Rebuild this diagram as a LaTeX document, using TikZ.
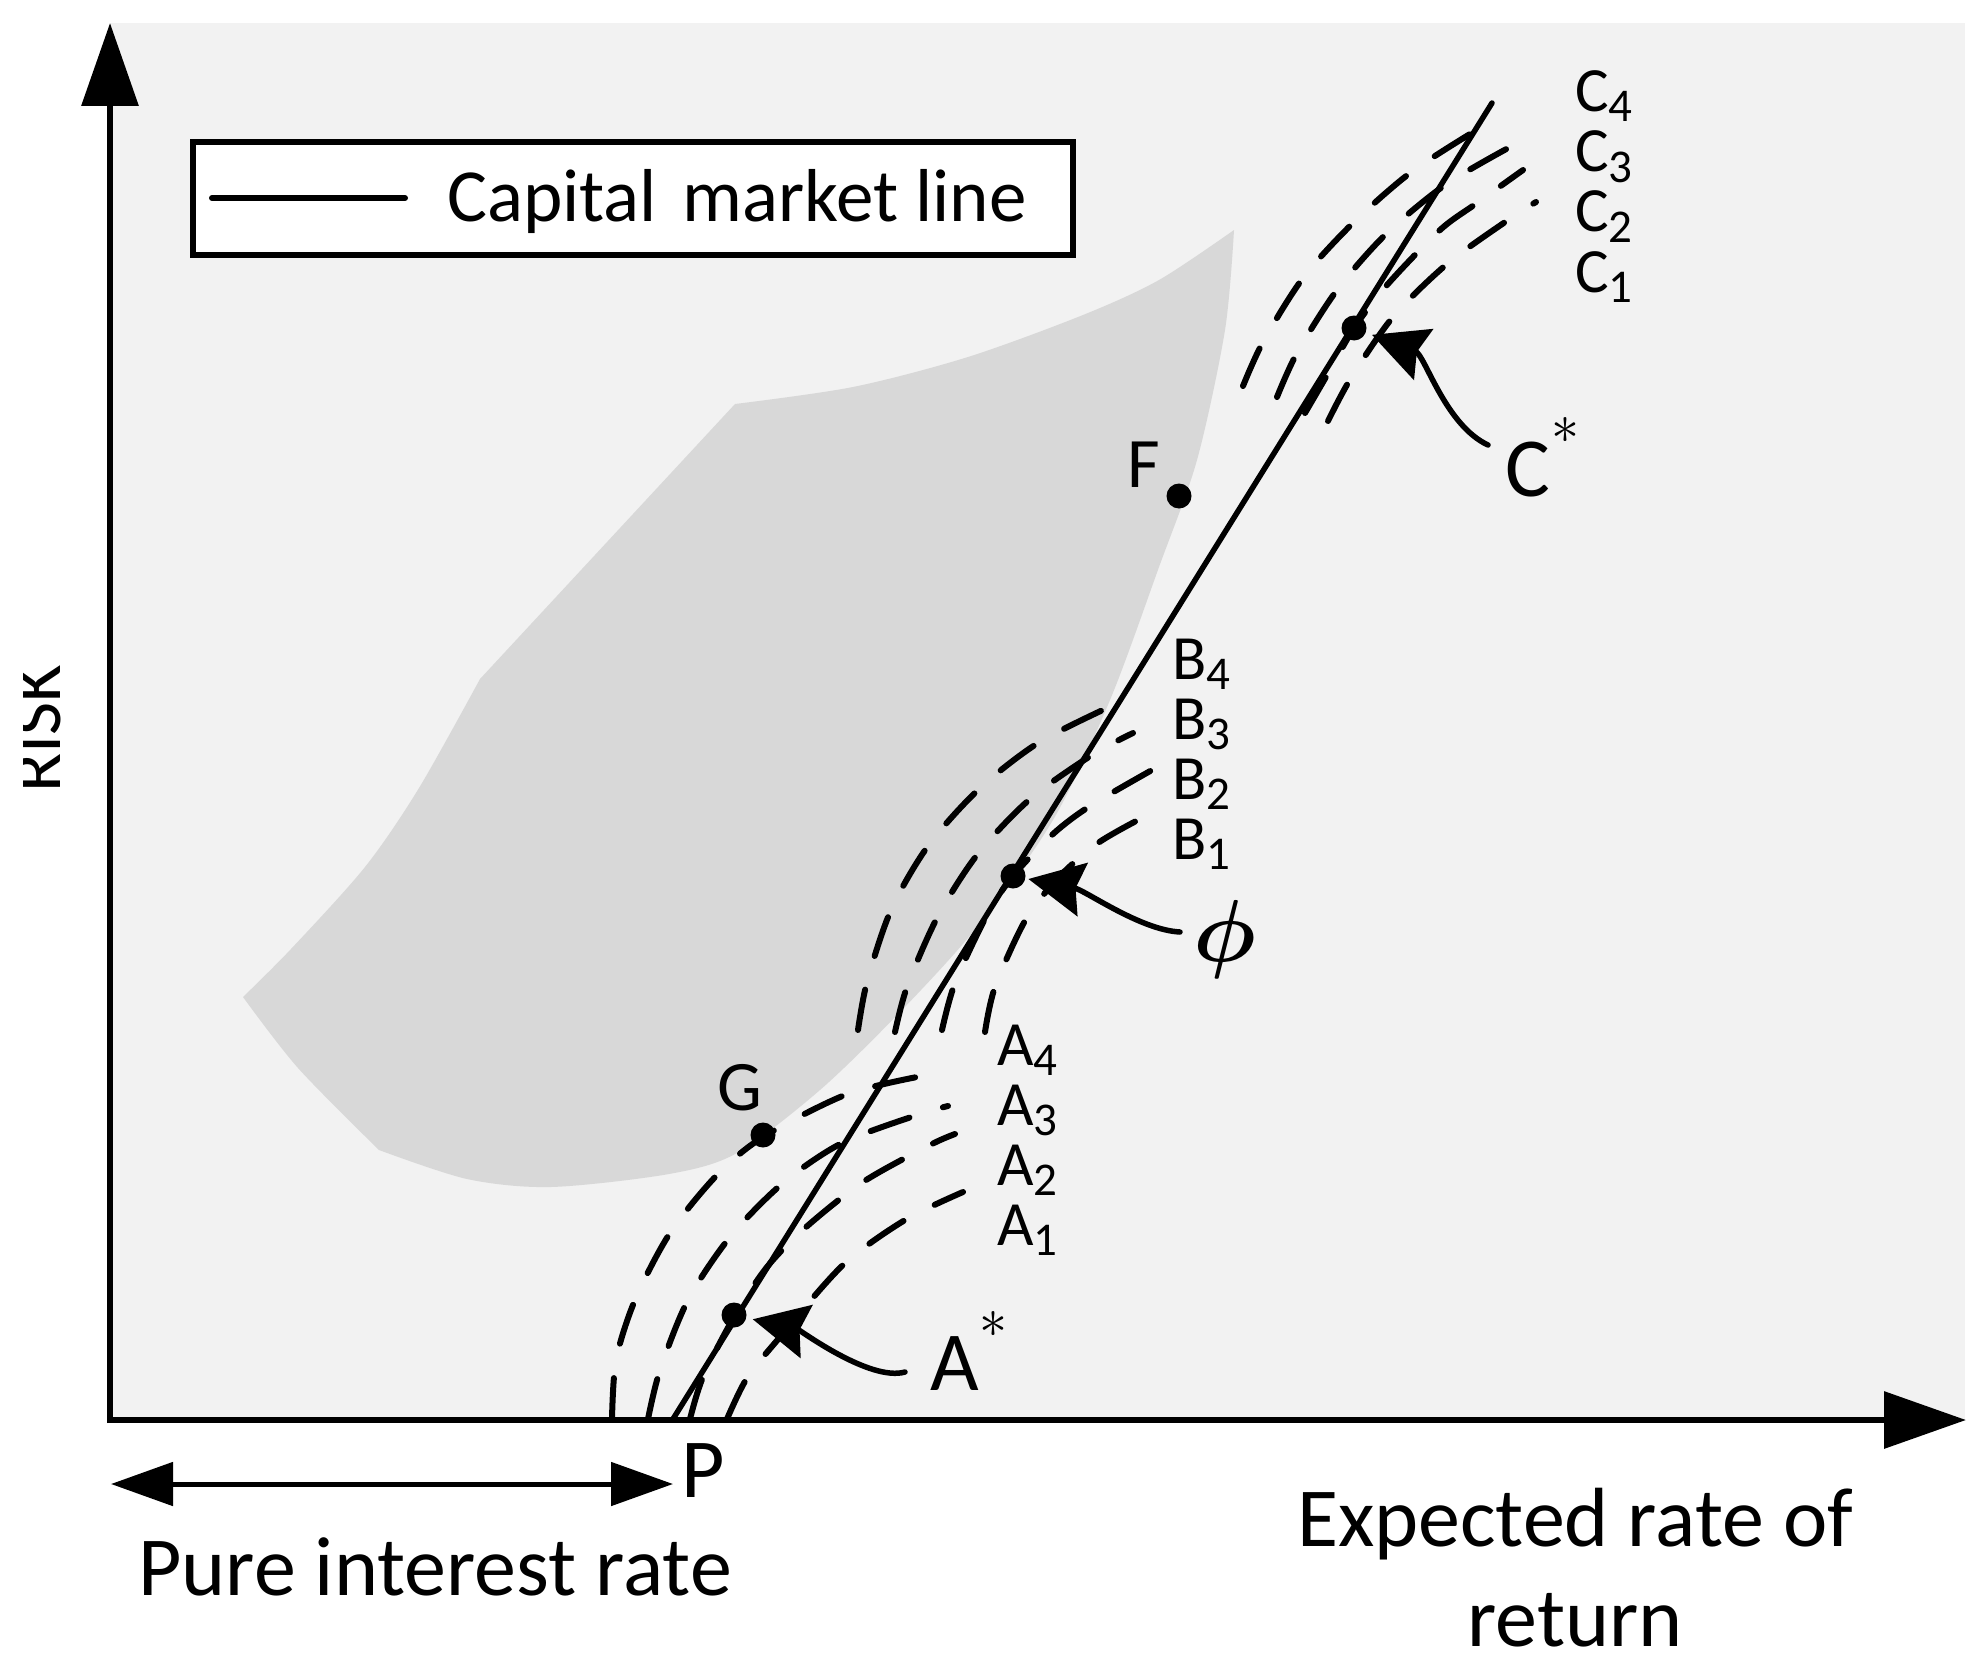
\RequirePackage{fix-cm}
\documentclass[tikz,border=0pt]{standalone}
\usepackage{fontspec}
\setmainfont{Carlito}
\usetikzlibrary{arrows.meta}
\definecolor{bglight}{HTML}{F2F2F2}
\definecolor{regiongray}{HTML}{D8D8D8}
\newcommand{\sublab}[2]{#1\raisebox{-10pt}{\fontsize{47}{47}\selectfont #2}}
\begin{document}
\begin{tikzpicture}[x=1pt,y=-1pt,
  axisline/.style={line width=6.5pt},
  cmlline/.style={line width=5.5pt, line cap=round},
  indiff/.style={line width=6pt, line cap=round, dash pattern=on 41pt off 35pt},
  dotnode/.style={circle, fill=black, minimum size=25pt, inner sep=0pt},
  ptr/.style={line width=5.5pt, line cap=round, -{Stealth[length=55pt,width=54pt,inset=7pt]}},
  lbl/.style={inner sep=0pt, font=\fontsize{63}{63}\selectfont, anchor=base west},
  bigtext/.style={inner sep=0pt, font=\fontsize{84}{100}\selectfont},
  midtext/.style={inner sep=0pt, font=\fontsize{71}{71}\selectfont, anchor=base},
  startext/.style={inner sep=0pt, font=\fontsize{56}{56}\selectfont, anchor=center},
]
\useasboundingbox (0,0) rectangle (1983,1672);
\fill[white] (0,0) rectangle (1983,1672);
\fill[bglight] (110,23) rectangle (1965,1420);

% feasible region
\fill[regiongray] plot[smooth] coordinates {(243,997) (291,949) (365,867) (419,788) (480,679)}
  -- (735,404)
  -- plot[smooth] coordinates {(735,404) (853,387) (968,357) (1083,315) (1159,280) (1234,230)}
  -- plot[smooth] coordinates {(1234,230) (1225,330) (1197,460) (1159,567) (1110,700) (1053,820) (977,927) (900,1012) (820,1090) (737,1153) (669,1174) (551,1187) (467,1179) (379,1150)}
  -- plot[smooth] coordinates {(379,1150) (298,1068) (243,997)}
  -- cycle;

% legend
\node[draw, line width=6pt, fill=white, inner sep=0pt, minimum width=880pt, minimum height=113pt] (legend) at (633,198.5) {};
\coordinate (legA) at (212,198);
\coordinate (legB) at (405,198);
\draw[line width=6pt, line cap=round] (legA) -- (legB);
\node[anchor=base, inner sep=0pt, font=\fontsize{75}{75}\selectfont] (legtext) at (737,222) {Capital\hspace{9pt} market line};

% indifference curves A
\draw[indiff] plot[smooth] coordinates {(612,1419) (616,1360) (635,1300) (670,1233) (717,1175) (763,1137) (845,1095) (917,1077)};
\draw[indiff] plot[smooth] coordinates {(648,1419) (660,1370) (688,1300) (730,1237) (783,1183) (842,1143) (917,1115) (948,1106)};
\draw[indiff] plot[smooth] coordinates {(690,1419) (703,1377) (734,1317) (767,1267) (805,1228) (863,1182) (930,1145) (955,1134)};
\draw[indiff] plot[smooth] coordinates {(727,1419) (747,1378) (780,1337) (843,1265) (905,1220) (963,1192)};
% B
\draw[indiff] plot[smooth] coordinates {(858,1030) (867,982) (891,910) (928,846) (979,789) (1038,743) (1107,708)};
\draw[indiff] plot[smooth] coordinates {(895,1032) (907,987) (937,918) (977,855) (1030,799) (1092,755) (1133,733)};
\draw[indiff] plot[smooth] coordinates {(942,1030) (955,983) (987,915) (1013,876) (1053,834) (1090,806) (1152,770)};
\draw[indiff] plot[smooth] coordinates {(985,1032) (995,987) (1026,919) (1060,876) (1098,843) (1138,820)};
% C
\draw[indiff] plot[smooth] coordinates {(1243,386) (1263,342) (1303,278) (1353,223) (1410,173) (1470,134)};
\draw[indiff] plot[smooth] coordinates {(1277,397) (1297,353) (1337,290) (1386,234) (1445,185) (1510,147)};
\draw[indiff] plot[smooth] coordinates {(1305,413) (1330,370) (1354,328) (1387,285) (1440,230) (1477,203) (1523,170)};
\draw[indiff] plot[smooth] coordinates {(1328,421) (1351,378) (1393,317) (1447,264) (1508,220) (1536,202)};

% capital market line
\coordinate (P) at (673,1419);
\coordinate (cmltop) at (1492,103);
\draw[cmlline] (P) -- (cmltop);

% points
\node[dotnode] (Astar) at (734,1315) {};
\node[dotnode] (phi) at (1013,876) {};
\node[dotnode] (Cstar) at (1354,328) {};
\node[dotnode] (Fdot) at (1179,496) {};
\node[dotnode] (Gdot) at (763,1135) {};

% pointer arrows
\coordinate (atail) at (905,1372);
\coordinate (ptail) at (1180,932);
\coordinate (ctail) at (1488,445);
\draw[ptr, shorten >=6.5pt] (atail) .. controls (870,1382) and (800,1330) .. (Astar);
\draw[ptr, shorten >=3pt] (ptail) .. controls (1140,930) and (1085,890) .. (phi);
\draw[ptr, shorten >=6.5pt] (ctail) .. controls (1445,425) and (1425,355) .. (Cstar);

% labels
\node[midtext] (Flab) at (1144,487) {F};
\node[midtext] (Glab) at (740,1110) {G};
\node[lbl] (A4) at (997,1065) {\sublab{A}{4}};
\node[lbl] (A3) at (997,1125) {\sublab{A}{3}};
\node[lbl] (A2) at (997,1185) {\sublab{A}{2}};
\node[lbl] (A1) at (997,1245) {\sublab{A}{1}};
\node[lbl] (B4) at (1172,679) {\sublab{B}{4}};
\node[lbl] (B3) at (1172,739) {\sublab{B}{3}};
\node[lbl] (B2) at (1172,799) {\sublab{B}{2}};
\node[lbl] (B1) at (1172,859) {\sublab{B}{1}};
\node[lbl] (C4) at (1575,112) {\sublab{C}{4}};
\node[lbl] (C3) at (1575,172) {\sublab{C}{3}};
\node[lbl] (C2) at (1575,232) {\sublab{C}{2}};
\node[lbl] (C1) at (1575,292) {\sublab{C}{1}};
\node[bigtext, anchor=base west] (Alab) at (930,1390) {A};
\node[startext] (Aast) at (993,1324) {$\ast$};
\node[bigtext, anchor=base west] (Clab) at (1505,496) {C};
\node[startext] (Cast) at (1565,430) {$\ast$};
\node[inner sep=0pt, font={\fontsize{88}{88}\selectfont\boldmath}] (philab) at (1225,939) {$\phi$};

\node[bigtext, anchor=base] (Plab) at (703,1497) {P};
\node[bigtext, anchor=base] (pure) at (435,1595) {Pure interest rate};
\node[bigtext, align=center, anchor=north] (xlab) at (1575,1488) {Expected rate of\\return};

\begin{scope}
\clip (23,0) rectangle (300,1672);
\node[rotate=90, anchor=base, inner sep=0pt, font=\fontsize{72}{72}\selectfont] (risk) at (60,729) {RISK};
\end{scope}

% axes
\coordinate (O) at (110,1423);
\coordinate (ytop) at (110,23);
\coordinate (xstart) at (107,1420);
\coordinate (xend) at (1966,1420);
\draw[axisline, -{Triangle[length=83pt,width=56pt]}] (O) -- (ytop);
\draw[axisline, -{Triangle[length=82pt,width=56pt]}] (xstart) -- (xend);
\coordinate (pl) at (111,1484);
\coordinate (pr) at (673,1484);
\draw[line width=5pt, {Triangle[length=62pt,width=43pt]}-{Triangle[length=62pt,width=43pt]}] (pl) -- (pr);
\end{tikzpicture}
\end{document}
